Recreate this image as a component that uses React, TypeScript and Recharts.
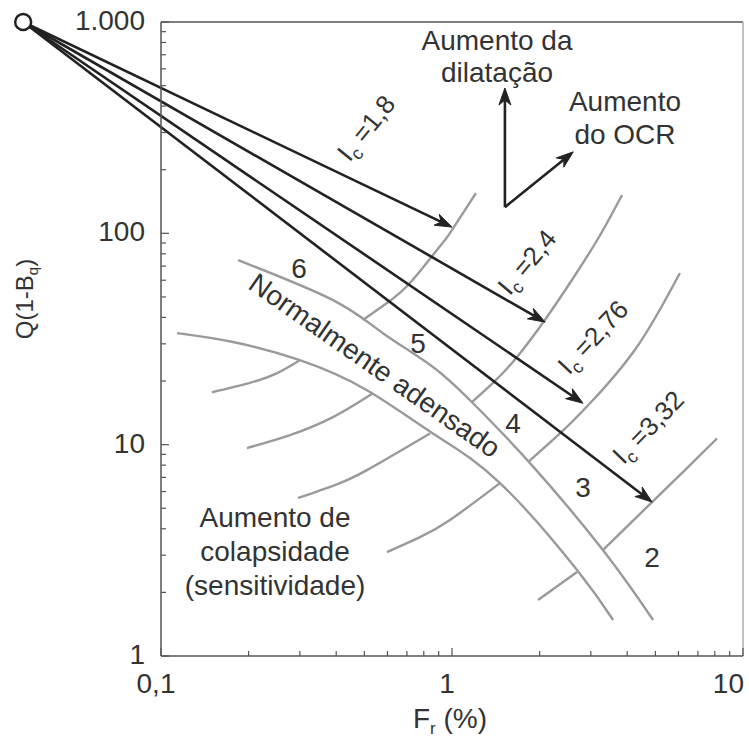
import { LineChart, Line, XAxis, YAxis, ReferenceLine, ReferenceDot } from 'recharts';

type Pt = { x: number; y: number };

// axis ticks (log-log)
const frTicks = [0.1, 0.2, 0.3, 0.4, 0.5, 0.6, 0.7, 0.8, 0.9, 1, 2, 3, 4, 5, 6, 7, 8, 9, 10];
const frTickLabels: Record<string, string> = { '0.1': '0,1', '1': '1', '10': '10' };
const qTicks = [
  1, 2, 3, 4, 5, 6, 7, 8, 9, 10, 20, 30, 40, 50, 60, 70, 80, 90,
  100, 200, 300, 400, 500, 600, 700, 800, 900, 1000,
];
const qTickLabels: Record<string, string> = { '1': '1', '10': '10', '100': '100', '1000': '1.000' };

// limits of the normally consolidated band
const ncUpper: Pt[] = [
  { x: 0.184, y: 74.7 }, { x: 0.39, y: 48.3 }, { x: 0.579, y: 33.7 }, { x: 0.86, y: 23.3 },
  { x: 1.181, y: 15.7 }, { x: 1.854, y: 8.18 }, { x: 3.3, y: 3.17 }, { x: 4.91, y: 1.48 },
];
const ncLower: Pt[] = [
  { x: 0.1135, y: 33.7 }, { x: 0.1768, y: 30.6 }, { x: 0.3, y: 25.1 }, { x: 0.51, y: 18.1 },
  { x: 0.86, y: 11.3 }, { x: 1.462, y: 6.58 }, { x: 2.69, y: 2.55 }, { x: 3.58, y: 1.48 },
];

// Ic boundaries between zones 6/5, 5/4, 4/3 and 3/2
const ic18: Pt[] = [
  { x: 0.494, y: 38.9 }, { x: 0.598, y: 46.8 }, { x: 0.717, y: 58.2 }, { x: 0.888, y: 83.4 },
  { x: 0.984, y: 100.3 }, { x: 1.209, y: 155 },
];
const ic24: Pt[] = [
  { x: 1.171, y: 15.9 }, { x: 1.383, y: 19.6 }, { x: 1.673, y: 26 }, { x: 2.12, y: 40.2 },
  { x: 2.65, y: 63.5 }, { x: 3.23, y: 98.2 }, { x: 3.84, y: 151.8 },
];
const ic276: Pt[] = [
  { x: 1.825, y: 8.27 }, { x: 2.35, y: 11.3 }, { x: 2.98, y: 15.7 }, { x: 4.32, y: 29 },
  { x: 6.07, y: 64.9 },
];
const ic332: Pt[] = [
  { x: 3.3, y: 3.17 }, { x: 4.87, y: 5.35 }, { x: 6.32, y: 7.58 }, { x: 8.14, y: 10.7 },
];

// same boundaries below the band (sensitive side)
const sens1: Pt[] = [{ x: 0.1497, y: 17.7 }, { x: 0.2021, y: 19.6 }, { x: 0.2504, y: 21.8 }, { x: 0.3, y: 25.1 }];
const sens2: Pt[] = [{ x: 0.1974, y: 9.64 }, { x: 0.2776, y: 11.1 }, { x: 0.39, y: 13.5 }, { x: 0.535, y: 17.5 }];
const sens3: Pt[] = [{ x: 0.2957, y: 5.59 }, { x: 0.396, y: 6.44 }, { x: 0.51, y: 7.58 }, { x: 0.84, y: 11.3 }];
const sens4: Pt[] = [{ x: 0.598, y: 3.1 }, { x: 0.776, y: 3.65 }, { x: 0.984, y: 4.4 }, { x: 1.462, y: 6.58 }];
const sens5: Pt[] = [{ x: 1.975, y: 1.84 }, { x: 2.69, y: 2.5 }];

const boundaries = [ncUpper, ncLower, ic18, ic24, ic276, ic332, sens1, sens2, sens3, sens4, sens5];

// Ic arrows from the common origin
const icOrigin: Pt = { x: 0.0336, y: 1000 };
const icArrowTips: Pt[] = [
  { x: 1.0, y: 107 }, { x: 2.09, y: 38 }, { x: 2.82, y: 15.7 }, { x: 4.87, y: 5.35 },
];
const icValues = ['1,8', '2,4', '2,76', '3,32'];
const icLabelAt: Pt[] = [
  { x: 0.507, y: 315 }, { x: 1.81, y: 73.1 }, { x: 3.05, y: 32.3 }, { x: 4.72, y: 12.1 },
];

// trend arrows
const trendBase: Pt = { x: 1.52, y: 133 };
const dilatancyTip: Pt = { x: 1.52, y: 487 };
const ocrTip: Pt = { x: 2.61, y: 243 };

const zoneNames = ['6', '5', '4', '3', '2'];
const zoneAt: Pt[] = [
  { x: 0.298, y: 68.6 }, { x: 0.764, y: 30.3 }, { x: 1.62, y: 12.7 }, { x: 2.82, y: 6.3 }, { x: 4.87, y: 2.94 },
];

const ncLabelAt: Pt = { x: 0.544, y: 23.8 };
const dilatancyLabelAt: Pt = { x: 1.428, y: 690 };
const ocrLabelAt: Pt = { x: 3.93, y: 355 };
const sensLabelAt: Pt = { x: 0.2465, y: 3.14 };

const font = "'Liberation Sans', Arial, Helvetica, sans-serif";
const ink = '#333';
const axisGray = '#555';
const curveGray = '#9a9a9a';
const arrowInk = '#222';

const icAngles = [-51, -50, -47, -46];

function FrTick(props: any) {
  const { x, y, payload } = props;
  const label = frTickLabels[String(payload.value)];
  const last = payload.value === 10;
  return (
    <g>
      <line x1={x} x2={x} y1={y} y2={y - (label ? 8 : 5)} stroke={axisGray} strokeWidth={1.2} />
      {label && (
        <text
          x={last ? x + 1 : x - 5}
          y={y + 37}
          textAnchor={last ? 'end' : 'middle'}
          fontFamily={font}
          fontSize={28}
          fill={ink}
        >
          {label}
        </text>
      )}
    </g>
  );
}

function QTick(props: any) {
  const { x, y, payload } = props;
  const label = qTickLabels[String(payload.value)];
  return (
    <g>
      <line x1={x} x2={x + (label ? 8 : 5)} y1={y} y2={y} stroke={axisGray} strokeWidth={1.2} />
      {label && (
        <text x={x - 16} y={y + 8} textAnchor="end" fontFamily={font} fontSize={28} fill={ink}>
          {label}
        </text>
      )}
    </g>
  );
}

function XTitle(props: any) {
  const { x, y, width } = props.viewBox;
  return (
    <text x={x + width / 2 - 2} y={y + 72} textAnchor="middle" fontFamily={font} fontSize={28} fill={ink}>
      F<tspan fontSize={17} dy={6}>r</tspan>
      <tspan dy={-6}> (%)</tspan>
    </text>
  );
}

function YTitle(props: any) {
  const { x, y } = props.viewBox;
  return (
    <text
      transform={`translate(${x + 33},${y + 277}) rotate(-90)`}
      textAnchor="middle"
      fontFamily={font}
      fontSize={24}
      fill={ink}
    >
      Q(1-B<tspan fontSize={15} dy={5}>q</tspan>
      <tspan dy={-5}>)</tspan>
    </text>
  );
}

function Arrow(props: any) {
  const { x1, y1, x2, y2 } = props;
  const a = Math.atan2(y2 - y1, x2 - x1);
  const c = Math.cos(a);
  const s = Math.sin(a);
  const len = 17;
  const half = 6;
  const bx = x2 - len * c;
  const by = y2 - len * s;
  const nx = x2 - 12 * c;
  const ny = y2 - 12 * s;
  return (
    <g>
      <line x1={x1} y1={y1} x2={nx} y2={ny} stroke={arrowInk} strokeWidth={2.6} />
      <path
        d={`M${x2},${y2} L${bx - half * s},${by + half * c} L${nx},${ny} L${bx + half * s},${by - half * c} Z`}
        fill={arrowInk}
        stroke={arrowInk}
        strokeWidth={1}
        strokeLinejoin="round"
      />
    </g>
  );
}

function TextBlock({ cx, cy, lines, size = 28, gap = 33, angle = 0 }: any) {
  const first = -((lines.length - 1) * gap) / 2 + size * 0.36;
  return (
    <text
      transform={`translate(${cx},${cy}) rotate(${angle})`}
      textAnchor="middle"
      fontFamily={font}
      fontSize={size}
      fill={ink}
    >
      {lines.map((l: string, i: number) => (
        <tspan key={i} x={0} y={first + i * gap}>
          {l}
        </tspan>
      ))}
    </text>
  );
}

function IcLabel({ cx, cy, value, angle }: any) {
  return (
    <text
      transform={`translate(${cx},${cy}) rotate(${angle})`}
      y={9}
      textAnchor="middle"
      fontFamily={font}
      fontSize={26}
      fill={ink}
    >
      I<tspan fontSize={18} dy={6}>c</tspan>
      <tspan dy={-6}>{` =${value}`}</tspan>
    </text>
  );
}

export default function App() {
  return (
    <div style={{ position: 'absolute', left: 0, top: 0, background: '#fff' }}>
      <LineChart width={749} height={738} margin={{ top: 22, right: 6, bottom: 0, left: 0 }}>
        <XAxis
          type="number"
          dataKey="x"
          scale="log"
          domain={[0.1, 10]}
          allowDataOverflow
          ticks={frTicks}
          interval={0}
          tickSize={0}
          tickMargin={0}
          tickLine={false}
          tick={(p: any) => <FrTick {...p} />}
          axisLine={{ stroke: axisGray, strokeWidth: 1.5 }}
          height={82}
          label={{ content: (p: any) => <XTitle {...p} /> }}
        />
        <YAxis
          type="number"
          dataKey="y"
          scale="log"
          domain={[1, 1000]}
          allowDataOverflow
          ticks={qTicks}
          interval={0}
          tickSize={0}
          tickMargin={0}
          tickLine={false}
          tick={(p: any) => <QTick {...p} />}
          axisLine={{ stroke: axisGray, strokeWidth: 1.5 }}
          width={161}
          label={{ content: (p: any) => <YTitle {...p} /> }}
        />
        <ReferenceLine y={1000} stroke={axisGray} strokeWidth={1.5} />
        <ReferenceLine x={10} stroke="#aaa" strokeWidth={1.5} />

        {boundaries.map((pts, i) => (
          <Line
            key={i}
            data={pts}
            dataKey="y"
            type="natural"
            stroke={curveGray}
            strokeWidth={2.4}
            dot={false}
            activeDot={false}
            isAnimationActive={false}
          />
        ))}

        {icArrowTips.map((tip, i) => (
          <ReferenceLine
            key={`ic-${i}`}
            segment={[icOrigin, tip]}
            ifOverflow="visible"
            shape={(p: any) => <Arrow {...p} />}
          />
        ))}
        <ReferenceLine segment={[trendBase, dilatancyTip]} ifOverflow="visible" shape={(p: any) => <Arrow {...p} />} />
        <ReferenceLine segment={[trendBase, ocrTip]} ifOverflow="visible" shape={(p: any) => <Arrow {...p} />} />
        <ReferenceDot
          x={icOrigin.x}
          y={icOrigin.y}
          r={8}
          fill="#fff"
          stroke={arrowInk}
          strokeWidth={2.5}
          ifOverflow="visible"
        />

        {icValues.map((v, i) => (
          <ReferenceDot
            key={`icl-${i}`}
            x={icLabelAt[i].x}
            y={icLabelAt[i].y}
            ifOverflow="visible"
            shape={(p: any) => <IcLabel cx={p.cx} cy={p.cy} value={v} angle={icAngles[i]} />}
          />
        ))}
        {zoneNames.map((z, i) => (
          <ReferenceDot
            key={`z-${i}`}
            x={zoneAt[i].x}
            y={zoneAt[i].y}
            ifOverflow="visible"
            shape={(p: any) => <TextBlock cx={p.cx} cy={p.cy} lines={[z]} />}
          />
        ))}
        <ReferenceDot
          x={ncLabelAt.x}
          y={ncLabelAt.y}
          ifOverflow="visible"
          shape={(p: any) => <TextBlock cx={p.cx} cy={p.cy} lines={['Normalmente adensado']} angle={35} />}
        />
        <ReferenceDot
          x={dilatancyLabelAt.x}
          y={dilatancyLabelAt.y}
          ifOverflow="visible"
          shape={(p: any) => <TextBlock cx={p.cx} cy={p.cy} lines={['Aumento da', 'dilatação']} gap={32} />}
        />
        <ReferenceDot
          x={ocrLabelAt.x}
          y={ocrLabelAt.y}
          ifOverflow="visible"
          shape={(p: any) => <TextBlock cx={p.cx} cy={p.cy} lines={['Aumento', 'do OCR']} />}
        />
        <ReferenceDot
          x={sensLabelAt.x}
          y={sensLabelAt.y}
          ifOverflow="visible"
          shape={(p: any) => (
            <TextBlock cx={p.cx} cy={p.cy} lines={['Aumento de', 'colapsidade', '(sensitividade)']} gap={34} />
          )}
        />
      </LineChart>
    </div>
  );
}
